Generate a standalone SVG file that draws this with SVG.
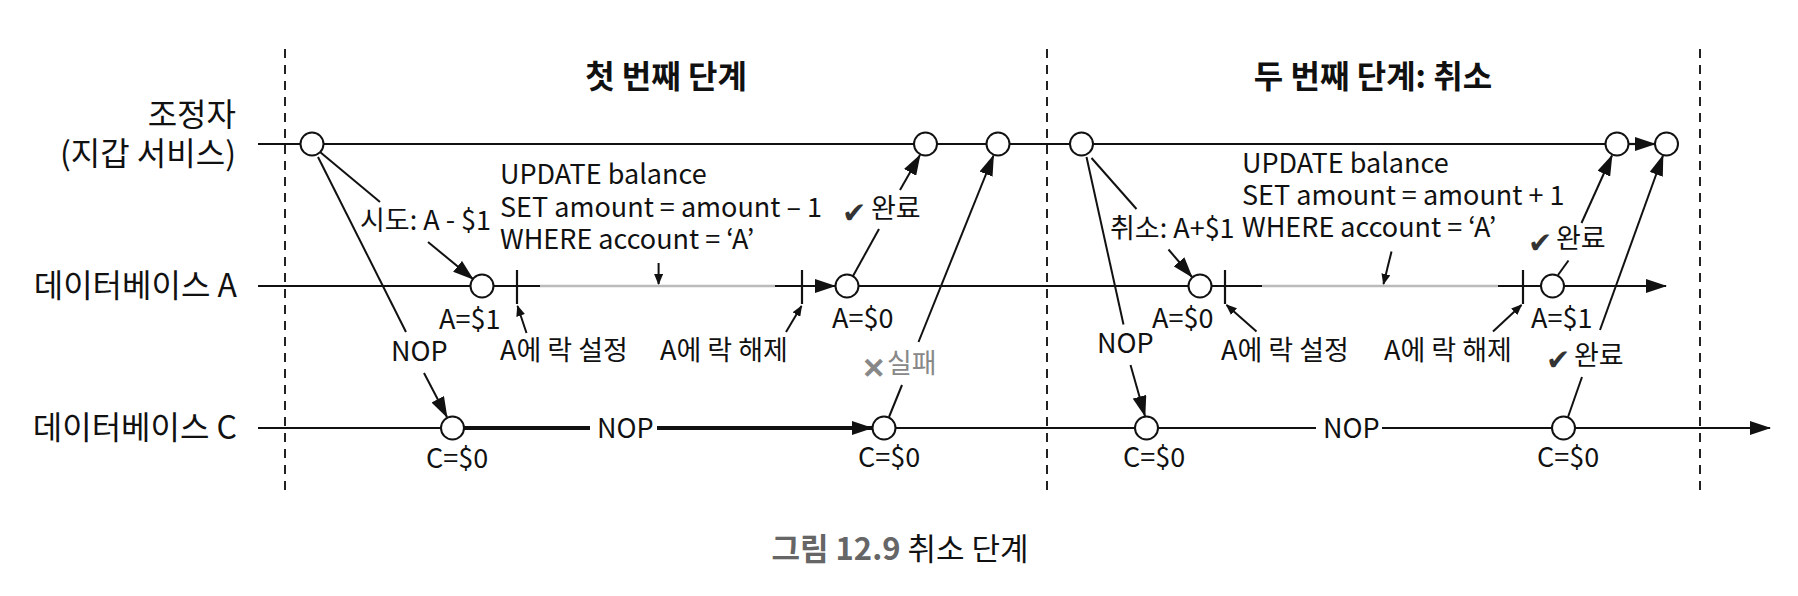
<svg xmlns="http://www.w3.org/2000/svg" width="1798" height="596" viewBox="0 0 1798 596">
<defs>
<marker id="ah" markerUnits="userSpaceOnUse" markerWidth="21" markerHeight="14" refX="20" refY="7" orient="auto"><path d="M0,0 L21,7 L0,14 Z" fill="#111"/></marker>
<marker id="as" markerUnits="userSpaceOnUse" markerWidth="11" markerHeight="9" refX="10" refY="4.5" orient="auto"><path d="M0,0 L11,4.5 L0,9 Z" fill="#111"/></marker>
</defs>
<style>
text{font-family:"Noto Sans CJK KR","Noto Sans",sans-serif;font-size:27px;fill:#111}
.t{font-weight:bold;font-size:32px;text-anchor:middle}
.lane{text-anchor:end;font-size:32px}
.ok{font-family:"DejaVu Sans",sans-serif;font-size:29px;fill:#333}
.x{font-family:"DejaVu Sans",sans-serif;font-size:28px;fill:#888;stroke:#888;stroke-width:1.2}
.gr{fill:#888}
.cap{font-size:31px;text-anchor:middle}
.ln{stroke:#111;stroke-width:2.2;fill:none}
.lg{stroke:#bbb;stroke-width:2.6;fill:none}
.thick{stroke:#111;stroke-width:3.8;fill:none}
.c{stroke:#111;stroke-width:2;fill:none}
.d{stroke:#222;stroke-width:2;stroke-dasharray:9 7;fill:none}
.n{fill:#fff;stroke:#111;stroke-width:2}
</style>
<g id="phases">
<line class="d" x1="285" y1="49" x2="285" y2="491"/>
<line class="d" x1="1047" y1="49" x2="1047" y2="491"/>
<line class="d" x1="1700" y1="49" x2="1700" y2="491"/>
<text class="t" x="666" y="88">첫 번째 단계</text>
<text class="t" x="1373" y="88">두 번째 단계: 취소</text>
</g>
<g id="lane-labels">
<text class="lane" x="236" y="126">조정자</text>
<text class="lane" x="236" y="165">(지갑 서비스)</text>
<text class="lane" x="237" y="297">데이터베이스 A</text>
<text class="lane" x="237" y="439">데이터베이스 C</text>
</g>
<g id="connectors">
<line class="ln" x1="258" y1="144" x2="1617" y2="144"/>
<line class="ln" x1="1629" y1="144" x2="1655" y2="144" marker-end="url(#ah)"/>
<line class="ln" x1="258" y1="286" x2="540" y2="286"/>
<line class="lg" x1="540" y1="286" x2="775" y2="286"/>
<line class="ln" x1="775" y1="286" x2="835" y2="286" marker-end="url(#ah)"/>
<line class="ln" x1="859" y1="286" x2="1262" y2="286"/>
<line class="lg" x1="1262" y1="286" x2="1498" y2="286"/>
<line class="ln" x1="1498" y1="286" x2="1666" y2="286" marker-end="url(#ah)"/>
<line class="ln" x1="258" y1="428" x2="441" y2="428"/>
<line class="thick" x1="464" y1="428" x2="590" y2="428"/>
<line class="thick" x1="657" y1="428" x2="872" y2="428" marker-end="url(#ah)"/>
<line class="ln" x1="896" y1="428" x2="1316" y2="428"/>
<line class="ln" x1="1382" y1="428" x2="1770" y2="428" marker-end="url(#ah)"/>
<line class="ln" x1="517" y1="270" x2="517" y2="304"/>
<line class="ln" x1="802" y1="270" x2="802" y2="304"/>
<line class="ln" x1="1225" y1="270" x2="1225" y2="304"/>
<line class="ln" x1="1523" y1="270" x2="1523" y2="304"/>
<line class="c" x1="320" y1="152" x2="380" y2="202"/>
<line class="c" x1="428" y1="242" x2="473" y2="279" marker-end="url(#ah)"/>
<line class="c" x1="318" y1="157" x2="406" y2="332"/>
<line class="c" x1="424" y1="373" x2="447" y2="417" marker-end="url(#ah)"/>
<line class="c" x1="853" y1="276" x2="879" y2="229"/>
<line class="c" x1="900" y1="190" x2="920" y2="155" marker-end="url(#ah)"/>
<line class="c" x1="889" y1="417" x2="902" y2="385"/>
<line class="c" x1="918.5" y1="342" x2="993.5" y2="155.5" marker-end="url(#ah)"/>
<line class="c" x1="526.5" y1="333" x2="517.5" y2="306" marker-end="url(#as)"/>
<line class="c" x1="786" y1="332" x2="801.5" y2="306" marker-end="url(#as)"/>
<line class="c" x1="658.6" y1="263" x2="658.6" y2="284" marker-end="url(#as)"/>
<line class="c" x1="1091.5" y1="158" x2="1136.5" y2="209"/>
<line class="c" x1="1168.5" y1="249.5" x2="1192" y2="277" marker-end="url(#ah)"/>
<line class="c" x1="1086.5" y1="157" x2="1123.5" y2="324.5"/>
<line class="c" x1="1130.5" y1="365" x2="1145" y2="416" marker-end="url(#ah)"/>
<line class="c" x1="1558" y1="275" x2="1568.5" y2="260.5"/>
<line class="c" x1="1581.5" y1="223" x2="1612" y2="155.5" marker-end="url(#ah)"/>
<line class="c" x1="1568" y1="417" x2="1582" y2="377"/>
<line class="c" x1="1600" y1="330" x2="1663" y2="155.5" marker-end="url(#ah)"/>
<line class="c" x1="1256.5" y1="331.5" x2="1226.5" y2="305" marker-end="url(#as)"/>
<line class="c" x1="1493" y1="331.5" x2="1521.5" y2="305" marker-end="url(#as)"/>
<line class="c" x1="1391.5" y1="251.5" x2="1383.5" y2="284" marker-end="url(#as)"/>
</g>
<g id="connector-labels">
<text x="360" y="230">시도: A - $1</text>
<text x="500" y="184">UPDATE balance</text>
<text x="500" y="216.5">SET amount = amount – 1</text>
<text x="500" y="249">WHERE account = ‘A’</text>
<text class="ok" x="842" y="223">✔</text><text x="871" y="218">완료</text>
<text x="500" y="359.5">A에 락 설정</text>
<text x="660" y="359.5">A에 락 해제</text>
<text x="391" y="361">NOP</text>
<text class="x" x="862" y="378">✕</text><text class="gr" x="887" y="373">실패</text>
<text x="597" y="438">NOP</text>
<text x="1110" y="238">취소: A+$1</text>
<text x="1242" y="173">UPDATE balance</text>
<text x="1242" y="205">SET amount = amount + 1</text>
<text x="1242" y="237">WHERE account = ‘A’</text>
<text x="1097" y="353">NOP</text>
<text x="1221" y="360">A에 락 설정</text>
<text x="1384" y="360">A에 락 해제</text>
<text class="ok" x="1528" y="253">✔</text><text x="1556" y="248">완료</text>
<text class="ok" x="1546" y="370">✔</text><text x="1574" y="365">완료</text>
<text x="1323" y="438">NOP</text>
</g>
<g id="coord-1"><circle class="n" cx="312" cy="144" r="11.5"/></g>
<g id="coord-2"><circle class="n" cx="925.5" cy="144" r="11.5"/></g>
<g id="coord-3"><circle class="n" cx="998" cy="144" r="11.5"/></g>
<g id="coord-4"><circle class="n" cx="1081.5" cy="144" r="11.5"/></g>
<g id="coord-5"><circle class="n" cx="1617" cy="144" r="11.5"/></g>
<g id="coord-6"><circle class="n" cx="1666.5" cy="144" r="11.5"/></g>
<g id="dba-1"><circle class="n" cx="482" cy="286" r="11.5"/><text x="439" y="329">A=$1</text></g>
<g id="dba-2"><circle class="n" cx="847" cy="286" r="11.5"/><text x="832" y="328">A=$0</text></g>
<g id="dba-3"><circle class="n" cx="1200" cy="286" r="11.5"/><text x="1152" y="328">A=$0</text></g>
<g id="dba-4"><circle class="n" cx="1552.5" cy="286" r="11.5"/><text x="1531" y="328">A=$1</text></g>
<g id="dbc-1"><circle class="n" cx="452.5" cy="428" r="11.5"/><text x="426" y="468">C=$0</text></g>
<g id="dbc-2"><circle class="n" cx="884" cy="428" r="11.5"/><text x="858" y="467">C=$0</text></g>
<g id="dbc-3"><circle class="n" cx="1146.5" cy="428" r="11.5"/><text x="1123" y="467">C=$0</text></g>
<g id="dbc-4"><circle class="n" cx="1563.5" cy="428" r="11.5"/><text x="1537" y="467">C=$0</text></g>
<g id="caption">
<text class="cap" x="900" y="560"><tspan font-weight="bold" fill="#666">그림 12.9</tspan> 취소 단계</text>
</g>
</svg>
